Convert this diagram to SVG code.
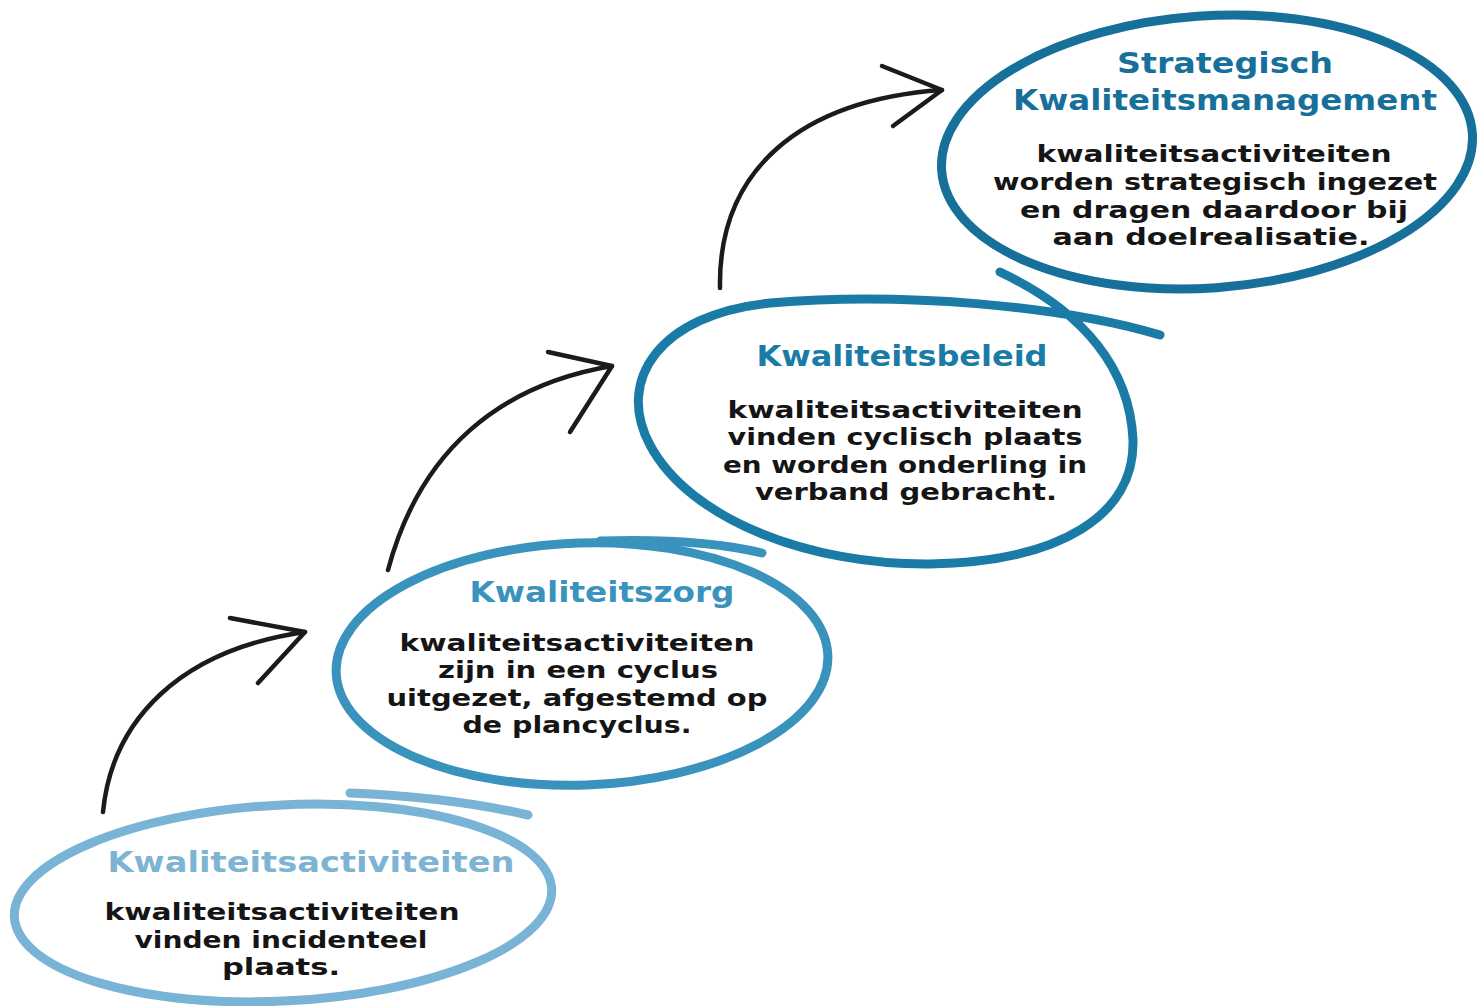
<svg xmlns="http://www.w3.org/2000/svg" width="1480" height="1006" viewBox="0 0 1480 1006">
<style>
.loop{fill:none;stroke-width:9;stroke-linecap:round;stroke-linejoin:round}
.arr{fill:none;stroke:#1b1b1b;stroke-width:4.5;stroke-linecap:round;stroke-linejoin:round}
.t{font-family:"DejaVu Sans","Liberation Sans",sans-serif;font-size:29px;text-anchor:middle;font-weight:bold}
.b{font-family:"DejaVu Sans","Liberation Sans",sans-serif;font-size:23px;text-anchor:middle;fill:#151515;font-weight:bold}
</style>
<rect width="1480" height="1006" fill="#ffffff"/>
<g id="connectors">
<path class="arr" d="M103,812 C112,720 180,650 305,632"/>
<path class="arr" d="M230,618 L305,632 L258,683"/>
<path class="arr" d="M388,570 C420,450 500,385 612,366"/>
<path class="arr" d="M548,352 L612,366 L570,432"/>
<path class="arr" d="M720,288 C718,170 800,100 942,90"/>
<path class="arr" d="M882,66 L942,90 L893,126"/>
</g>
<g id="node1">
<ellipse class="loop" stroke="#79b3d5" cx="283" cy="903" rx="269" ry="98" transform="rotate(-3 283 903)"/>
<path class="loop" stroke="#79b3d5" d="M350,793 Q450,797 528,815"/>
<text class="t" fill="#7eb4d3" x="311" y="872" textLength="407" lengthAdjust="spacingAndGlyphs">Kwaliteitsactiviteiten</text>
<text class="b" x="282" y="920" textLength="355" lengthAdjust="spacingAndGlyphs">kwaliteitsactiviteiten</text>
<text class="b" x="281" y="948" textLength="293" lengthAdjust="spacingAndGlyphs">vinden incidenteel</text>
<text class="b" x="281" y="975" textLength="118" lengthAdjust="spacingAndGlyphs">plaats.</text>
</g>
<g id="node2">
<ellipse class="loop" stroke="#3a93bd" cx="582" cy="664" rx="246" ry="121" transform="rotate(-2 582 664)"/>
<path class="loop" stroke="#3a93bd" d="M600,541 Q700,538 762,553"/>
<text class="t" fill="#3a93bd" x="602" y="602" textLength="265" lengthAdjust="spacingAndGlyphs">Kwaliteitszorg</text>
<text class="b" x="577" y="651" textLength="355" lengthAdjust="spacingAndGlyphs">kwaliteitsactiviteiten</text>
<text class="b" x="578" y="678" textLength="280" lengthAdjust="spacingAndGlyphs">zijn in een cyclus</text>
<text class="b" x="577" y="706" textLength="381" lengthAdjust="spacingAndGlyphs">uitgezet, afgestemd op</text>
<text class="b" x="577" y="733" textLength="229" lengthAdjust="spacingAndGlyphs">de plancyclus.</text>
</g>
<g id="node3">
<path class="loop" stroke="#1a7ba6" d="M1160,335 C1060,305 900,292 770,303 C660,314 615,380 650,445 C690,520 810,565 930,564 C1060,562 1135,515 1133,440 C1130,370 1085,312 1000,272"/>
<text class="t" fill="#1a7ba6" x="902" y="366" textLength="291" lengthAdjust="spacingAndGlyphs">Kwaliteitsbeleid</text>
<text class="b" x="905" y="418" textLength="355" lengthAdjust="spacingAndGlyphs">kwaliteitsactiviteiten</text>
<text class="b" x="905" y="445" textLength="355" lengthAdjust="spacingAndGlyphs">vinden cyclisch plaats</text>
<text class="b" x="905" y="473" textLength="364" lengthAdjust="spacingAndGlyphs">en worden onderling in</text>
<text class="b" x="906" y="500" textLength="302" lengthAdjust="spacingAndGlyphs">verband gebracht.</text>
</g>
<g id="node4">
<ellipse class="loop" stroke="#16709a" cx="1207" cy="152" rx="266" ry="136" transform="rotate(-4 1207 152)"/>
<text class="t" fill="#16709a" x="1225" y="73" textLength="216" lengthAdjust="spacingAndGlyphs">Strategisch</text>
<text class="t" fill="#16709a" x="1225" y="110" textLength="424" lengthAdjust="spacingAndGlyphs">Kwaliteitsmanagement</text>
<text class="b" x="1214" y="162" textLength="355" lengthAdjust="spacingAndGlyphs">kwaliteitsactiviteiten</text>
<text class="b" x="1215" y="190" textLength="444" lengthAdjust="spacingAndGlyphs">worden strategisch ingezet</text>
<text class="b" x="1214" y="218" textLength="388" lengthAdjust="spacingAndGlyphs">en dragen daardoor bij</text>
<text class="b" x="1211" y="245" textLength="317" lengthAdjust="spacingAndGlyphs">aan doelrealisatie.</text>
</g>
</svg>
